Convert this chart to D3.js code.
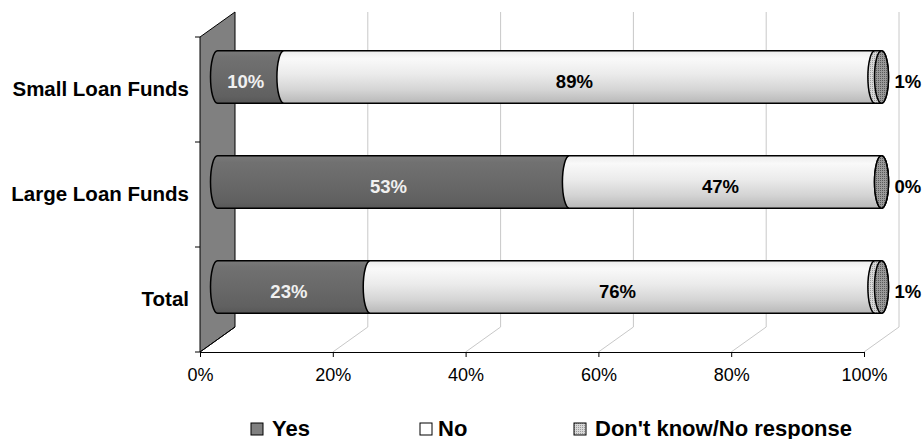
<!DOCTYPE html>
<html>
<head>
<meta charset="utf-8">
<script src="https://cdn.jsdelivr.net/npm/d3@7"></script>
<style>
  html, body { margin: 0; padding: 0; background: #fff; }
  svg { display: block; font-family: "Liberation Sans", Arial, sans-serif; }
</style>
</head>
<body>
<svg id="chart" width="923" height="439"></svg>
<script>
// Survey answers per fund group (percent of respondents)
const categories = ["Small Loan Funds", "Large Loan Funds", "Total"];
const yesValues = [10, 53, 23];
const noValues = [89, 47, 76];
const dkValues = [1, 0, 1];
const seriesNames = ["Yes", "No", "Don't know/No response"];
const xTicks = [0, 20, 40, 60, 80, 100];

const svg = d3.select("#chart");

// Front floor plane geometry and 3D depth offset
const x = d3.scaleLinear().domain([0, 100]).range([200, 864]);
const y = d3.scaleBand().domain(categories).range([37, 352])
  .paddingInner(0.5).paddingOuter(0.25);
const depth = { dx: 35, dy: -25 };
const mid = { dx: depth.dx / 2, dy: depth.dy / 2 };
const rx = 7;

const rows = categories.map((c, i) => ({
  cat: c, yes: yesValues[i], no: noValues[i], dk: dkValues[i]
}));
const keys = ["yes", "no", "dk"];
const stacked = d3.stack().keys(keys)(rows);

// ---------- defs: gradients & hatch ----------
const defs = svg.append("defs");
const gYes = defs.append("linearGradient").attr("id", "gYes")
  .attr("x1", 0).attr("y1", 0).attr("x2", 0).attr("y2", 1);
[[0, "#7a7a7a"], [0.12, "#717171"], [0.5, "#696969"], [0.88, "#606060"], [1, "#575757"]]
  .forEach(([o, c]) => gYes.append("stop").attr("offset", o).attr("stop-color", c));
const gNo = defs.append("linearGradient").attr("id", "gNo")
  .attr("x1", 0).attr("y1", 0).attr("x2", 0).attr("y2", 1);
[[0, "#ececec"], [0.15, "#f9f9f9"], [0.45, "#ebebeb"], [0.75, "#d4d4d4"], [1, "#b8b8b8"]]
  .forEach(([o, c]) => gNo.append("stop").attr("offset", o).attr("stop-color", c));

const hatch = defs.append("pattern").attr("id", "hatch")
  .attr("width", 2).attr("height", 2).attr("patternUnits", "userSpaceOnUse");
hatch.append("rect").attr("width", 2).attr("height", 2).attr("fill", "#9a9a9a");
hatch.append("rect").attr("width", 1).attr("height", 1).attr("fill", "#5a5a5a");
const hatchLight = defs.append("pattern").attr("id", "hatchLight")
  .attr("width", 2).attr("height", 2).attr("patternUnits", "userSpaceOnUse");
hatchLight.append("rect").attr("width", 2).attr("height", 2).attr("fill", "#d8d8d8");
hatchLight.append("rect").attr("width", 1).attr("height", 1).attr("fill", "#9a9a9a");

// ---------- back wall & gridlines ----------
const x0 = x(0), yTop = y.range()[0], yBot = y.range()[1];
svg.append("polygon")
  .attr("points", [
    [x0, yTop], [x0 + depth.dx, yTop + depth.dy],
    [x0 + depth.dx, yBot + depth.dy], [x0, yBot]
  ].map(p => p.join(",")).join(" "))
  .attr("fill", "#808080").attr("stroke", "#000").attr("stroke-width", 1);

const grid = svg.append("g").attr("stroke", "#c8c8c8").attr("fill", "none");
xTicks.filter(t => t > 0).forEach(t => {
  const gx = x(t);
  grid.append("polyline").attr("points",
    `${gx},${yBot} ${gx + depth.dx},${yBot + depth.dy} ${gx + depth.dx},${yTop + depth.dy}`);
});
// floor edge under the wall
svg.append("line").attr("x1", x0).attr("y1", yBot)
  .attr("x2", x0 + depth.dx).attr("y2", yBot + depth.dy).attr("stroke", "#000");

// ---------- category axis ticks ----------
const catTicks = [yTop, ...categories.map(c => y(c) - y.step() * y.paddingInner() / 2).slice(1), yBot];
svg.append("g").selectAll("line").data(catTicks).join("line")
  .attr("x1", x0 - 5).attr("x2", x0).attr("y1", d => d).attr("y2", d => d)
  .attr("stroke", "#000");

svg.append("g").selectAll("text").data(categories).join("text")
  .attr("x", 189).attr("y", d => y(d) + y.bandwidth() / 2 - 1)
  .attr("text-anchor", "end").attr("dominant-baseline", "central")
  .attr("font-weight", "bold").attr("font-size", 20.5).attr("fill", "#000")
  .text(d => d);

// ---------- x axis ----------
const xAxis = d3.axisBottom(x).tickValues(xTicks).tickFormat(d => d + "%")
  .tickSizeOuter(0).tickSize(5).tickPadding(11);
const axG = svg.append("g").attr("transform", `translate(0,${yBot})`).call(xAxis);
axG.select(".domain").attr("stroke", "#000");
axG.selectAll(".tick line").attr("stroke", "#000");
axG.selectAll(".tick text").attr("font-size", 18).attr("fill", "#000")
  .attr("font-family", "'Liberation Sans', Arial, sans-serif");

// ---------- cylinder bars ----------
const ry = y.bandwidth() / 2;
function segPath(a, b, cy) {
  return `M${a},${cy - ry} L${b},${cy - ry} A${rx},${ry} 0 0 1 ${b},${cy + ry} ` +
         `L${a},${cy + ry} A${rx},${ry} 0 0 1 ${a},${cy - ry} Z`;
}
const fills = { yes: "url(#gYes)", no: "url(#gNo)", dk: "url(#hatchLight)" };
const bars = svg.append("g");
stacked.forEach(layer => {
  bars.append("g").selectAll("path").data(layer).join("path")
    .attr("d", d => {
      const cy = y(d.data.cat) + ry + mid.dy;
      return segPath(x(d[0]) + mid.dx, x(d[1]) + mid.dx, cy);
    })
    .attr("fill", fills[layer.key])
    .attr("stroke", "#000").attr("stroke-width", 1.5);
});
// end caps
const last = stacked[stacked.length - 1];
bars.append("g").selectAll("ellipse").data(last).join("ellipse")
  .attr("cx", d => x(d[1]) + mid.dx)
  .attr("cy", d => y(d.data.cat) + ry + mid.dy)
  .attr("rx", rx).attr("ry", ry)
  .attr("fill", "url(#hatch)").attr("stroke", "#000").attr("stroke-width", 1.5);

// ---------- value labels ----------
const labels = svg.append("g").attr("font-weight", "bold").attr("font-size", 18.5);
stacked.slice(0, 2).forEach(layer => {
  labels.append("g").selectAll("text").data(layer).join("text")
    .attr("x", d => x((d[0] + d[1]) / 2) + mid.dx - 5)
    .attr("y", d => y(d.data.cat) + ry + mid.dy + 4)
    .attr("text-anchor", "middle").attr("dominant-baseline", "central")
    .attr("fill", layer.key === "yes" ? "#f0f0f0" : "#000")
    .text(d => (d[1] - d[0]) + "%");
});
labels.append("g").selectAll("text").data(last).join("text")
  .attr("x", d => x(d[1]) + mid.dx + 13)
  .attr("y", d => y(d.data.cat) + ry + mid.dy + 4)
  .attr("dominant-baseline", "central").attr("fill", "#000")
  .text(d => (d[1] - d[0]) + "%");

// ---------- legend ----------
const legendX = [251, 420, 574];
const swatch = ["#808080", "#ffffff", "url(#hatchLight)"];
const lg = svg.append("g").selectAll("g").data(seriesNames).join("g")
  .attr("transform", (d, i) => `translate(${legendX[i]},423)`);
lg.append("rect").attr("width", 12).attr("height", 12)
  .attr("fill", (d, i) => swatch[i])
  .attr("stroke", "#000").attr("stroke-width", 1);
lg.append("text").attr("x", (d, i) => [21, 18, 21][i]).attr("y", 12.5)
  .attr("font-weight", "bold").attr("font-size", 22).attr("fill", "#000")
  .text(d => d);
</script>
</body>
</html>
